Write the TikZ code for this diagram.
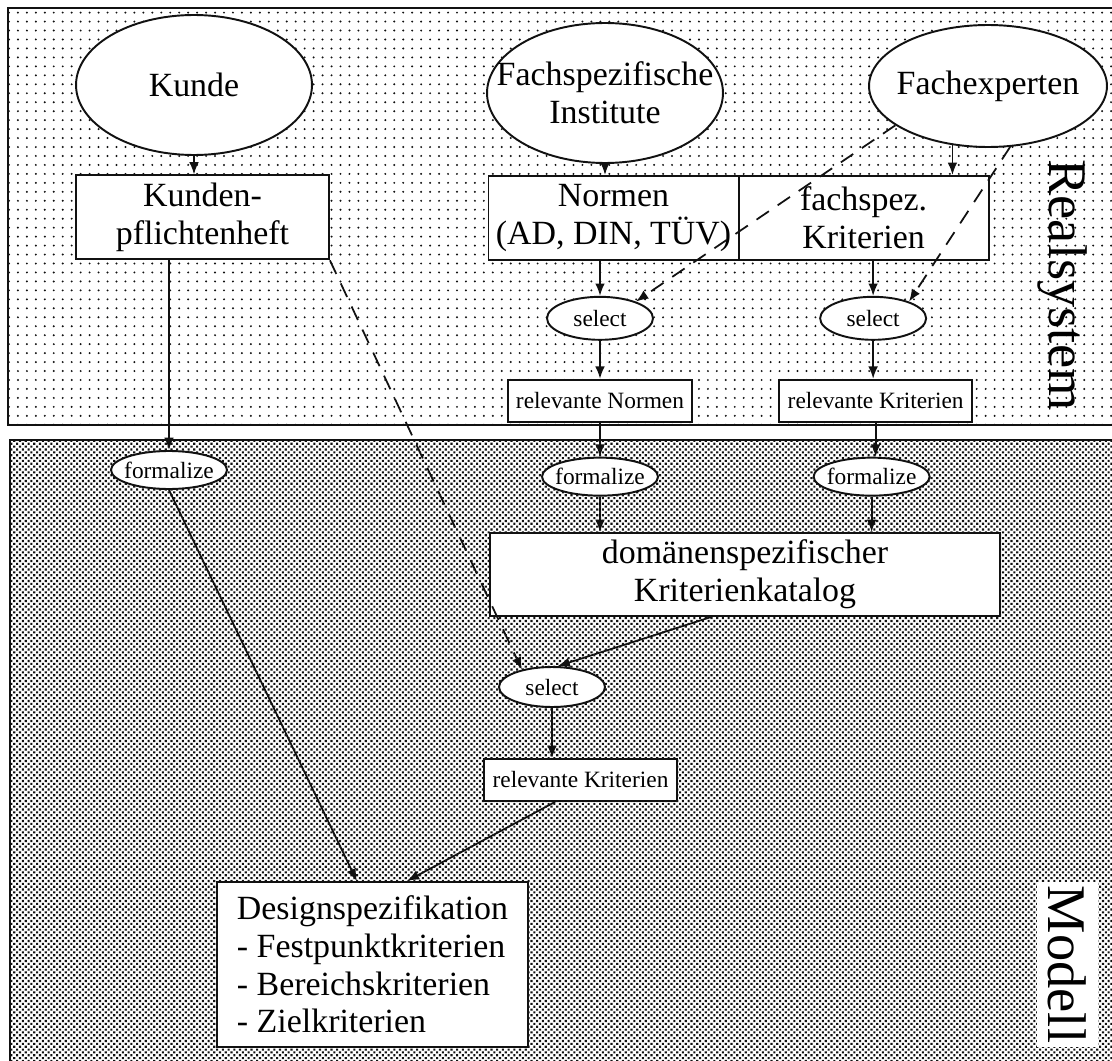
\documentclass[tikz,border=0pt]{standalone}
\usepackage{fontspec}
\setmainfont{Liberation Serif}
\usepackage{xcolor}
\definecolor{inkDark}{HTML}{111111}
\definecolor{paperWhite}{HTML}{FFFFFF}
\usepackage{tikz}
\usetikzlibrary{shapes,arrows,positioning,calc,arrows.meta,shapes.misc,patterns.meta}
\newcommand{\bigText}{\fontsize{19.3}{21.5}\selectfont}
\newcommand{\smallText}{\fontsize{13.3}{15}\selectfont}
\newcommand{\sideText}{\fontsize{31}{34}\selectfont}
\tikzset{
  sourceEllipse/.style={
    ellipse,
    draw=inkDark,
    fill=paperWhite,
    line width=1.1pt,
    inner xsep=-0.5cm,
    inner ysep=0pt,
    minimum width=4.72cm,
    minimum height=2.8cm,
    align=center,
    font=\bigText
 },
  docBox/.style={
    rectangle,
    draw=inkDark,
    fill=paperWhite,
    line width=1.1pt,
    minimum height=1.68cm,
    align=center,
    font=\bigText
 },
  actEllipse/.style={
    ellipse,
    draw=inkDark,
    fill=paperWhite,
    line width=1.1pt,
    inner xsep=-0.2cm,
    inner ysep=0pt,
    minimum width=2.12cm,
    minimum height=0.86cm,
    font=\smallText
 },
  smallBox/.style={
    rectangle,
    draw=inkDark,
    fill=paperWhite,
    line width=1.1pt,
    minimum height=0.84cm,
    inner xsep=2pt,
    font=\smallText
 },
  sideLabel/.style={
    rotate=-90,
    inner sep=0pt,
    font=\sideText
 },
  realPanel/.style={
    draw=inkDark,
    line width=1.3pt,
    preaction={fill=paperWhite},
    pattern={Dots[distance=5.1pt,radius=0.62pt]},
    pattern color=inkDark
 },
  modelPanel/.style={
    draw=inkDark,
    line width=1.3pt,
    preaction={fill=paperWhite},
    pattern={Dots[distance=2.3pt,angle=45,radius=0.85pt]},
    pattern color=inkDark
 },
  arrowLine/.style={
    -{Latex[length=7pt,width=5.5pt]},
    line width=1pt,
    color=inkDark
 },
  dashArrow/.style={
    arrowLine,
    dash pattern=on 8.5pt off 6pt
 }
}
\begin{document}
\begin{tikzpicture}[x=0.02cm, y=-0.02cm, node distance=0.7cm]
            \useasboundingbox (0,0) rectangle (1112,1061);
            \path[realPanel] (8,8) rectangle (1118,425);
            \path[modelPanel] (10,440) rectangle (1118,1068);

            \node[sourceEllipse] (kunde) at (194,85) {Kunde};
            \node[sourceEllipse] (institute) at (605,93) {Fachspezifische\\Institute};
            \node[sourceEllipse, minimum width=4.76cm, minimum height=2.44cm] (experten) at (988,86) {Fachexperten};

            \node[docBox, minimum width=5.06cm, below=0.37cm of kunde, xshift=0.17cm] (pflicht) {Kunden-\\pflichtenheft};
            \node[docBox, minimum width=5cm, below=0.22cm of institute, xshift=0.17cm] (normen) {Normen\\(AD, DIN, TÜV)};
            \node[docBox, minimum width=5cm, right=0cm of normen, xshift=-1pt] (fachspez) {fachspez.\\Kriterien};

            \node[actEllipse, below=0.7cm of normen, xshift=-0.27cm] (selNormen) {select};
            \node[smallBox, minimum width=3.68cm, below=0.76cm of selNormen] (relNormen) {relevante Normen};
            \node[actEllipse, below=0.7cm of fachspez, xshift=0.19cm] (selKrit) {select};
            \node[smallBox, minimum width=3.86cm, below=0.76cm of selKrit, xshift=0.05cm] (relKrit) {relevante Kriterien};

            \node[actEllipse, minimum width=2.32cm, minimum height=0.76cm] (formKunde) at (169,470) {formalize};
            \node[actEllipse, minimum width=2.32cm, minimum height=0.76cm, below=0.68cm of relNormen] (formNormen) {formalize};
            \node[actEllipse, minimum width=2.32cm, minimum height=0.76cm, below=0.68cm of relKrit, xshift=-0.08cm] (formKrit) {formalize};

            \node[docBox, minimum width=10.2cm, minimum height=1.66cm] (katalog) at (745,574.5) {domänenspezifischer\\Kriterienkatalog};
            \node[actEllipse, minimum height=0.8cm] (selDesign) at (552,687) {select};
            \node[smallBox, minimum width=3.86cm, below=1cm of selDesign, xshift=0.57cm] (relDesign) {relevante Kriterien};
            \node[docBox, align=left, minimum width=6.22cm, minimum height=3.3cm] (design) at (372.5,964.5) {Designspezifikation\\- Festpunktkriterien\\- Bereichskriterien\\- Zielkriterien};

            \node[sideLabel] (realsystem) at (1063,285) {Realsystem};
            \node[sideLabel, fill=paperWhite, minimum width=3.3cm, minimum height=1.22cm] (modell) at (1067.5,964.5) {Modell};

            \coordinate (katalogOut) at ($(katalog.south west)!0.434!(katalog.south east)$);
            \coordinate (relDesignOut) at ($(relDesign.south west)!0.37!(relDesign.south east)$);
            \coordinate (designInA) at ($(design.north west)!0.45!(design.north east)$);
            \coordinate (designInB) at ($(design.north west)!0.61!(design.north east)$);

            \draw[arrowLine] (kunde.south) -- (kunde.south |- pflicht.north);
            \draw[arrowLine] (formKunde.north |- pflicht.south) -- (formKunde.north);
            \draw[arrowLine] (institute.south) -- (institute.south |- normen.north);
            \draw[arrowLine] (experten.239) -- (experten.239 |- fachspez.north);
            \draw[arrowLine] (selNormen.north |- normen.south) -- (selNormen.north);
            \draw[arrowLine] (selKrit.north |- fachspez.south) -- (selKrit.north);
            \draw[arrowLine] (selNormen.south) -- (selNormen.south |- relNormen.north);
            \draw[arrowLine] (selKrit.south) -- (selKrit.south |- relKrit.north);
            \draw[arrowLine] (relNormen.south) -- (relNormen.south |- formNormen.north);
            \draw[arrowLine] (relKrit.south) -- (relKrit.south |- formKrit.north);
            \draw[arrowLine] (formNormen.south) -- (formNormen.south |- katalog.north);
            \draw[arrowLine] (formKrit.south) -- (formKrit.south |- katalog.north);
            \draw[arrowLine] (katalogOut) -- (selDesign.75);
            \draw[arrowLine] (selDesign.south) -- (selDesign.south |- relDesign.north);
            \draw[arrowLine] (formKunde.south) -- (designInA);
            \draw[arrowLine] (relDesignOut) -- (designInB);

            \draw[dashArrow] (experten.203) -- (selNormen.25);
            \draw[dashArrow] (experten.290) -- (selKrit.25);
            \draw[dashArrow] (pflicht.south east) -- (selDesign.150);
        \end{tikzpicture}
\end{document}
